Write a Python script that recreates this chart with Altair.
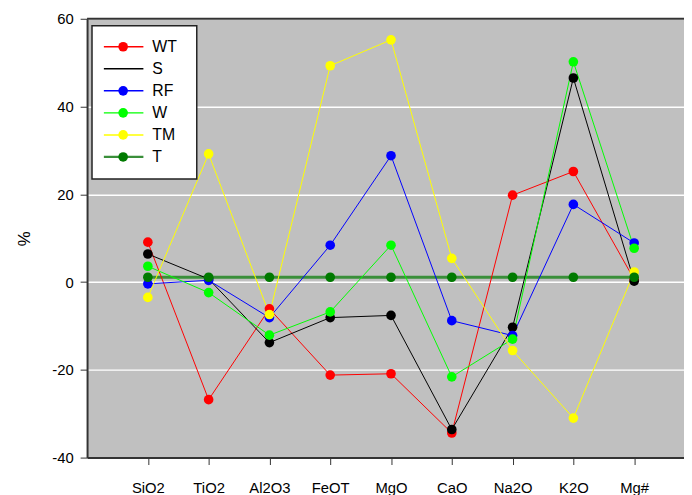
import altair as alt
import pandas as pd

categories = ["SiO2", "TiO2", "Al2O3", "FeOT", "MgO", "CaO", "Na2O", "K2O", "Mg#"]
series_names = ["WT", "S", "RF", "W", "TM", "T"]
series_colors = ["#FF0000", "#000000", "#0000FF", "#00FF00", "#FFFF00", "#007A00"]
line_colors = ["#FF0000", "#000000", "#0000FF", "#00FF00", "#FFFF00", "#3A8F3A"]
series_widths = [1, 1, 1, 1, 1, 3]
legend_widths = [1.5, 1.5, 1.5, 1.5, 1.5, 2.2]
legend_marker = [True, False, True, True, True, True]

WT = [9.1, -26.8, -6.1, -21.2, -20.9, -34.4, 19.8, 25.2, 0.6]
S = [6.4, 0.7, -13.8, -8.1, -7.6, -33.6, -10.3, 46.5, 0.2]
RF = [-0.4, 0.4, -8.1, 8.4, 28.8, -8.8, -12.2, 17.7, 8.9]
W = [3.6, -2.4, -12.1, -6.8, 8.4, -21.6, -13.0, 50.2, 7.7]
TM = [-3.5, 29.2, -7.4, 49.3, 55.2, 5.4, -15.6, -31.0, 2.3]
T = [1.1, 1.1, 1.1, 1.1, 1.1, 1.1, 1.1, 1.1, 1.1]
values = [WT, S, RF, W, TM, T]

W_PLOT = 604
H_PLOT = 444
FONT = "Liberation Sans"

rows = []
for name, vals in zip(series_names, values):
    for i, (c, v) in enumerate(zip(categories, vals)):
        rows.append({"series": name, "cat": c, "idx": i + 1, "value": v})
df = pd.DataFrame(rows)

label_expr = "[" + ",".join("'" + c + "'" for c in categories) + "][datum.value - 1]"

x_scale = alt.Scale(domain=[0, 9.82], nice=False, zero=False)
y_scale = alt.Scale(domain=[-40, 60], nice=False)

x_axis = alt.Axis(
    values=list(range(1, len(categories) + 1)),
    labelExpr=label_expr,
    title=None,
    grid=False,
    tickSize=7,
    labelPadding=16,
    labelFontSize=15,
    labelFont=FONT,
    labelColor="#000000",
    domainColor="#333333",
    domainWidth=2,
    tickColor="#333333",
    tickWidth=1,
)
y_axis = alt.Axis(
    values=[-40, -20, 0, 20, 40, 60],
    labelExpr="toString(datum.value)",
    title="%",
    titleFontSize=17,
    titleFont=FONT,
    titleFontWeight="normal",
    titleColor="#000000",
    titlePadding=19,
    grid=True,
    gridColor="#FFFFFF",
    gridWidth=1.5,
    tickSize=7,
    labelPadding=7,
    labelFontSize=15,
    labelFont=FONT,
    labelColor="#000000",
    domainColor="#333333",
    domainWidth=2,
    tickColor="#333333",
)

enc = dict(x=alt.X("idx:Q", scale=x_scale, axis=x_axis), y=alt.Y("value:Q", scale=y_scale, axis=y_axis))

line_order = [5, 0, 1, 2, 3, 4]
layers = []
for k in line_order:
    name = series_names[k]
    base = alt.Chart(df).transform_filter(alt.datum.series == name)
    layers.append(base.mark_line(color=line_colors[k], strokeWidth=series_widths[k]).encode(**enc))
for k, name in enumerate(series_names):
    base = alt.Chart(df).transform_filter(alt.datum.series == name)
    layers.append(base.mark_circle(color=series_colors[k], size=95, opacity=1).encode(**enc))

plot = alt.layer(*layers)

top = alt.Chart(pd.DataFrame({"a": [0]})).mark_rule(color="#333333", strokeWidth=2).encode(
    y=alt.value(0), x=alt.value(0), x2=alt.value(W_PLOT),
)

leg_df = pd.DataFrame({
    "name": series_names,
    "col": line_colors,
    "mcol": series_colors,
    "sw": legend_widths,
    "marker": legend_marker,
    "i": list(range(len(series_names))),
})
leg_base = alt.Chart(leg_df).transform_calculate(ly="28.3 + datum.i * 22.3")
box = alt.Chart(pd.DataFrame({"a": [0]})).mark_rect(
    fill="#FFFFFF", stroke="#222222", strokeWidth=1.5
).encode(x=alt.value(5), x2=alt.value(111), y=alt.value(7), y2=alt.value(162))
leg_lines = leg_base.mark_rule().encode(
    x=alt.value(17), x2=alt.value(57),
    y=alt.Y("ly:Q", scale=None, axis=None),
    color=alt.Color("col:N", scale=None),
    strokeWidth=alt.StrokeWidth("sw:Q", scale=None),
)
leg_pts = leg_base.transform_filter(alt.datum.marker).mark_circle(size=95, opacity=1).encode(
    x=alt.value(36.5),
    y=alt.Y("ly:Q", scale=None, axis=None),
    color=alt.Color("mcol:N", scale=None),
)
leg_text = leg_base.mark_text(align="left", baseline="middle", fontSize=16, font=FONT, color="#000000").encode(
    x=alt.value(66),
    y=alt.Y("ly:Q", scale=None, axis=None),
    text="name:N",
)
legend = alt.layer(box, leg_lines, leg_pts, leg_text)

chart = alt.layer(plot, top, legend).resolve_scale(y="independent").properties(
    width=W_PLOT,
    height=H_PLOT,
    background="#FFFFFF",
    padding={"left": 80, "top": 8, "right": 0, "bottom": 40},
    autosize=alt.AutoSizeParams(type="none"),
).configure_view(fill="#C0C0C0", stroke=None)

chart.save("out.html", embed_options={"renderer": "svg", "actions": False})
